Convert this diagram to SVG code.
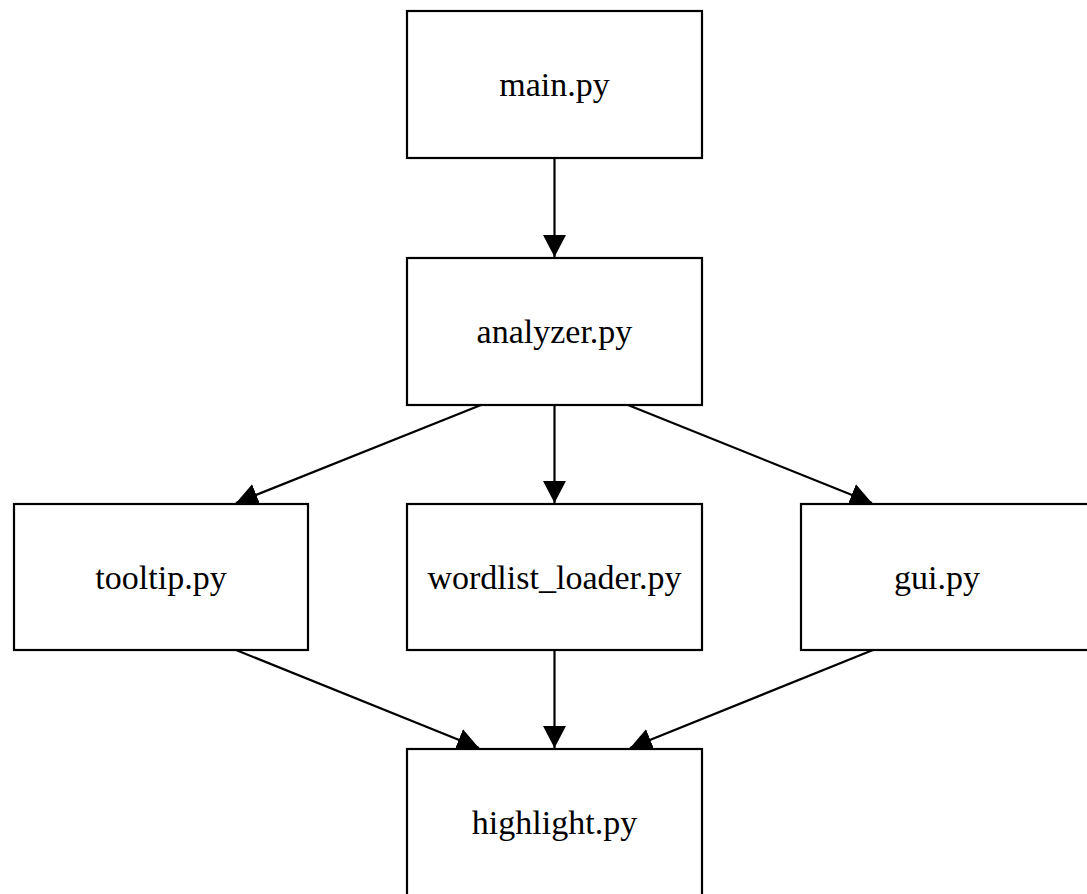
<svg xmlns="http://www.w3.org/2000/svg" width="1087" height="894" viewBox="0 0 1087 894">
<defs>
<style>
.box{fill:#fff;stroke:#000;stroke-width:2.2}
.lbl{font-family:"Liberation Serif","Times New Roman",serif;font-size:34px;fill:#000;text-anchor:middle}
.edge{stroke:#000;stroke-width:2.2;fill:none;marker-end:url(#ah)}
</style>
<marker id="ah" markerUnits="userSpaceOnUse" markerWidth="24" markerHeight="26" viewBox="-21 -12 23 24" refX="0" refY="0" orient="auto">
<path d="M0,0 L-21,-11 L-21,11 Z" fill="#000"/>
</marker>
</defs>
<rect width="1087" height="894" fill="#fff"/>
<g id="connectors">
<line class="edge" x1="554.5" y1="158" x2="554.5" y2="257"/>
<line class="edge" x1="481" y1="405" x2="236" y2="503"/>
<line class="edge" x1="554.5" y1="405" x2="554.5" y2="503"/>
<line class="edge" x1="628" y1="405" x2="872" y2="503"/>
<line class="edge" x1="236" y1="650" x2="479" y2="748"/>
<line class="edge" x1="554.5" y1="650" x2="554.5" y2="748"/>
<line class="edge" x1="873" y1="650" x2="630" y2="748"/>
</g>
<g id="main"><rect class="box" x="407" y="11" width="295" height="147"/><text class="lbl" x="554.5" y="96">main.py</text></g>
<g id="analyzer"><rect class="box" x="407" y="258" width="295" height="147"/><text class="lbl" x="554.5" y="343">analyzer.py</text></g>
<g id="tooltip"><rect class="box" x="14" y="504" width="294" height="146"/><text class="lbl" x="161" y="589">tooltip.py</text></g>
<g id="wordlist_loader"><rect class="box" x="407" y="504" width="295" height="146"/><text class="lbl" x="554.5" y="589">wordlist_loader.py</text></g>
<g id="gui"><rect class="box" x="801" y="504" width="295" height="146"/><text class="lbl" x="937" y="589">gui.py</text></g>
<g id="highlight"><rect class="box" x="407" y="749" width="295" height="147"/><text class="lbl" x="554.5" y="834">highlight.py</text></g>
</svg>
